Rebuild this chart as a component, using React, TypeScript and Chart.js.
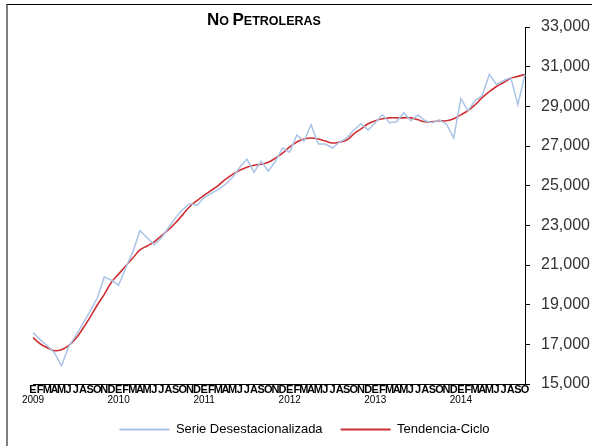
import React, { useEffect, useRef } from 'react';
import { Chart, registerables } from 'chart.js';

Chart.register(...registerables);

const MONTH_LETTERS = ['E', 'F', 'M', 'A', 'M', 'J', 'J', 'A', 'S', 'O', 'N', 'D'];
const YEARS = ['2009', '2010', '2011', '2012', '2013', '2014'];
const MONTH_COUNT = 70; // Enero 2009 - Octubre 2014

const SERIE_DESESTACIONALIZADA = [
  17590, 17240, 16930, 16580, 15920, 16880, 17440, 18050, 18660, 19320,
  20390, 20240, 19980, 20850, 21660, 22730, 22370, 22020, 22370, 22880,
  23390, 23800, 24100, 24000, 24400, 24610, 24810, 25070, 25420, 25930,
  26340, 25680, 26230, 25730, 26230, 26900, 26690, 27560, 27250, 28070,
  27100, 27100, 26900, 27200, 27400, 27810, 28120, 27810, 28170, 28570,
  28170, 28220, 28680, 28270, 28570, 28270, 28170, 28320, 28100, 27400,
  29390, 28780, 29290, 29540, 30610, 30100, 30300, 30450, 29080, 30610,
];

const TENDENCIA_CICLO = [
  17340, 17030, 16830, 16680, 16730, 16930, 17290, 17800, 18360, 18970,
  19520, 20130, 20540, 20950, 21350, 21760, 21960, 22170, 22470, 22780,
  23130, 23540, 23950, 24250, 24510, 24760, 25020, 25320, 25570, 25780,
  25930, 26030, 26080, 26180, 26390, 26640, 26950, 27200, 27350, 27400,
  27350, 27250, 27150, 27200, 27300, 27610, 27860, 28120, 28270, 28370,
  28420, 28420, 28420, 28420, 28320, 28220, 28220, 28270, 28270, 28370,
  28570, 28780, 29080, 29440, 29740, 30000, 30200, 30410, 30510, 30610,
];

const Y_TICKS = [15000, 17000, 19000, 21000, 23000, 25000, 27000, 29000, 31000, 33000];

const TITLE_PARTS: [string, boolean][] = [
  ['N', true], ['O ', false], ['P', true], ['ETROLERAS', false],
];

const MONTH_LABELS = Array.from({ length: MONTH_COUNT }, (_, i) => MONTH_LETTERS[i % 12]);

const titlePlugin = {
  id: 'smallCapsTitle',
  afterDraw(chart: any) {
    const ctx = chart.ctx;
    ctx.save();
    const big = "bold 17px 'Liberation Sans', Arial, sans-serif";
    const small = "bold 12.5px 'Liberation Sans', Arial, sans-serif";
    let total = 0;
    const widths = TITLE_PARTS.map(([t, b]) => {
      ctx.font = b ? big : small;
      const w = ctx.measureText(t).width;
      total += w;
      return w;
    });
    let x = 264 - total / 2;
    const y = 25;
    ctx.fillStyle = '#000';
    ctx.textBaseline = 'alphabetic';
    ctx.textAlign = 'left';
    TITLE_PARTS.forEach(([t, b], i) => {
      ctx.font = b ? big : small;
      ctx.fillText(t, x, y);
      x += widths[i];
    });
    ctx.restore();
  },
};

export default function App() {
  const canvasRef = useRef<HTMLCanvasElement | null>(null);

  useEffect(() => {
    if (!canvasRef.current) return;
    const chart = new Chart(canvasRef.current, {
      type: 'line',
      data: {
        labels: MONTH_LABELS,
        datasets: [
          {
            label: 'Serie Desestacionalizada',
            data: SERIE_DESESTACIONALIZADA,
            xAxisID: 'x',
            yAxisID: 'y',
            borderColor: '#A9C4E6',
            backgroundColor: '#A9C4E6',
            borderWidth: 1.5,
            pointRadius: 0,
            tension: 0,
          },
          {
            label: 'Tendencia-Ciclo',
            data: TENDENCIA_CICLO,
            xAxisID: 'x',
            yAxisID: 'y',
            borderColor: '#CF2F32',
            backgroundColor: '#CF2F32',
            borderWidth: 1.6,
            pointRadius: 0,
            tension: 0.4,
          },
        ],
      },
      options: {
        animation: false,
        responsive: false,
        maintainAspectRatio: false,
        layout: { padding: { top: 27, left: 17, right: 0, bottom: 0 } },
        plugins: {
          title: { display: false },
          tooltip: { enabled: false },
          legend: {
            position: 'bottom',
            labels: {
              boxWidth: 50,
              boxHeight: 2,
              padding: 18,
              color: '#000',
              font: { family: "'Liberation Sans', Arial, sans-serif", size: 13 },
              generateLabels: (c: any) =>
                c.data.datasets.map((ds: any, i: number) => ({
                  text: ds.label,
                  fillStyle: ds.borderColor,
                  strokeStyle: ds.borderColor,
                  lineWidth: 0,
                  hidden: false,
                  datasetIndex: i,
                  fontColor: '#000',
                })),
            },
          },
        },
        scales: {
          x: {
            type: 'category',
            position: 'bottom',
            weight: 0,
            offset: false,
            grid: { display: false, drawTicks: false, tickLength: 0 },
            border: { display: true, color: '#000', width: 1 },
            ticks: {
              autoSkip: false,
              maxRotation: 0,
              minRotation: 0,
              padding: 0,
              color: '#000',
              font: { family: "'Liberation Sans Narrow', 'Liberation Sans', Arial", size: 11, weight: 'bold', lineHeight: 1 },
            },
          },
          x2: {
            type: 'category',
            position: 'bottom',
            weight: 1,
            offset: false,
            grid: { display: false, drawTicks: false, tickLength: 0 },
            border: { display: false },
            ticks: {
              autoSkip: false,
              maxRotation: 0,
              minRotation: 0,
              padding: 0,
              color: '#000',
              font: { family: "'Liberation Sans Narrow', 'Liberation Sans', Arial", size: 10, lineHeight: 1 },
              callback: (_v: any, idx: number) => (idx % 12 === 0 ? YEARS[idx / 12] : ''),
            },
          },
          y: {
            type: 'linear',
            position: 'right',
            min: 15000,
            max: 33000,
            grid: { display: true, drawOnChartArea: false, drawTicks: true, tickLength: 5, color: '#000' },
            border: { display: true, color: '#000', width: 1 },
            afterBuildTicks: (s: any) => { s.ticks = Y_TICKS.map((v) => ({ value: v })); },
            ticks: {
              padding: 11,
              color: '#333',
              font: { family: "'Liberation Sans', Arial", size: 16 },
              callback: (v: any) => Number(v).toLocaleString('en-US'),
            },
            afterFit: (s: any) => { s.width = 67; },
          },
          yLeftSpacer: {
            type: 'linear',
            position: 'left',
            display: true,
            grid: { display: false, drawTicks: false },
            border: { display: false },
            ticks: { display: false },
            afterFit: (s: any) => { s.width = 16; },
          },
        },
      },
      plugins: [titlePlugin],
    });
    return () => chart.destroy();
  }, []);

  return (
    <div style={{ position: 'fixed', left: 0, top: 0, width: 592, height: 446, overflow: 'hidden', background: '#fff' }}>
      <div
        style={{
          position: 'absolute',
          left: 6,
          top: 4,
          width: 700,
          height: 600,
          borderTop: '1px solid #000',
          borderLeft: '2px solid #808080',
        }}
      />
      <canvas ref={canvasRef} width={592} height={446} style={{ position: 'absolute', left: 0, top: 0 }} />
    </div>
  );
}
